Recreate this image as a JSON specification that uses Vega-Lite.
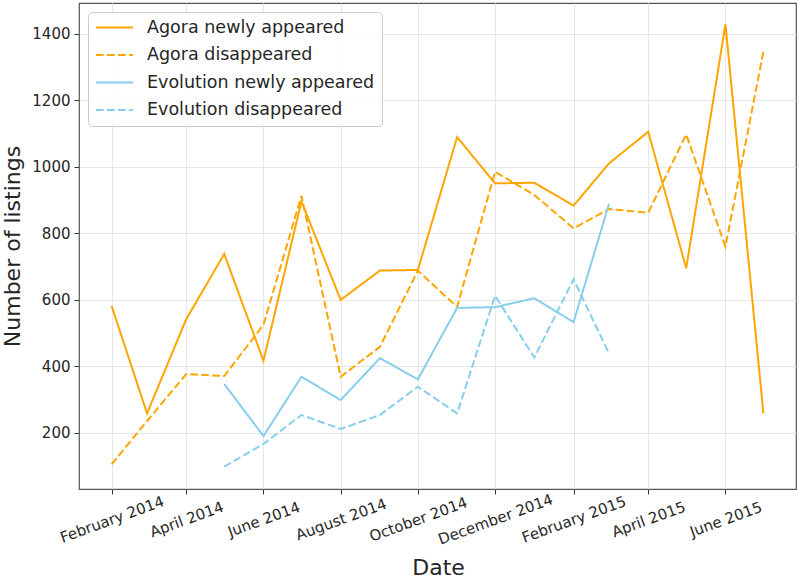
{
  "$schema": "https://vega.github.io/schema/vega-lite/v6.json",
  "width": 717,
  "height": 486,
  "autosize": {"type": "none"},
  "padding": {"left": 79, "top": 3, "right": 4, "bottom": 91},
  "background": "white",
  "config": {
    "font": "DejaVu Sans",
    "view": {"stroke": "#555555", "strokeWidth": 1.2},
    "axis": {
      "labelFont": "DejaVu Sans",
      "titleFont": "DejaVu Sans",
      "labelColor": "#262626",
      "titleColor": "#262626",
      "titleFontWeight": "normal",
      "domain": false,
      "tickColor": "#333333",
      "tickSize": 5,
      "tickWidth": 1,
      "gridColor": "#e6e6e6",
      "gridWidth": 1
    }
  },
  "data": {
    "values": [
      {"date": "2014-02-01T00:00:00", "series": "Agora newly appeared", "value": 582},
      {"date": "2014-03-01T00:00:00", "series": "Agora newly appeared", "value": 259},
      {"date": "2014-04-01T00:00:00", "series": "Agora newly appeared", "value": 542},
      {"date": "2014-05-01T00:00:00", "series": "Agora newly appeared", "value": 738},
      {"date": "2014-06-01T00:00:00", "series": "Agora newly appeared", "value": 417},
      {"date": "2014-07-01T00:00:00", "series": "Agora newly appeared", "value": 896},
      {"date": "2014-08-01T00:00:00", "series": "Agora newly appeared", "value": 600},
      {"date": "2014-09-01T00:00:00", "series": "Agora newly appeared", "value": 688},
      {"date": "2014-10-01T00:00:00", "series": "Agora newly appeared", "value": 690},
      {"date": "2014-11-01T00:00:00", "series": "Agora newly appeared", "value": 1089},
      {"date": "2014-12-01T00:00:00", "series": "Agora newly appeared", "value": 950},
      {"date": "2015-01-01T00:00:00", "series": "Agora newly appeared", "value": 952},
      {"date": "2015-02-01T00:00:00", "series": "Agora newly appeared", "value": 883},
      {"date": "2015-03-01T00:00:00", "series": "Agora newly appeared", "value": 1010},
      {"date": "2015-04-01T00:00:00", "series": "Agora newly appeared", "value": 1105},
      {"date": "2015-05-01T00:00:00", "series": "Agora newly appeared", "value": 695},
      {"date": "2015-06-01T00:00:00", "series": "Agora newly appeared", "value": 1428},
      {"date": "2015-07-01T00:00:00", "series": "Agora newly appeared", "value": 259},
      {"date": "2014-02-01T00:00:00", "series": "Agora disappeared", "value": 106},
      {"date": "2014-03-01T00:00:00", "series": "Agora disappeared", "value": 236},
      {"date": "2014-04-01T00:00:00", "series": "Agora disappeared", "value": 377},
      {"date": "2014-05-01T00:00:00", "series": "Agora disappeared", "value": 371},
      {"date": "2014-06-01T00:00:00", "series": "Agora disappeared", "value": 525},
      {"date": "2014-07-01T00:00:00", "series": "Agora disappeared", "value": 913},
      {"date": "2014-08-01T00:00:00", "series": "Agora disappeared", "value": 369},
      {"date": "2014-09-01T00:00:00", "series": "Agora disappeared", "value": 459},
      {"date": "2014-10-01T00:00:00", "series": "Agora disappeared", "value": 688},
      {"date": "2014-11-01T00:00:00", "series": "Agora disappeared", "value": 579},
      {"date": "2014-12-01T00:00:00", "series": "Agora disappeared", "value": 985},
      {"date": "2015-01-01T00:00:00", "series": "Agora disappeared", "value": 915},
      {"date": "2015-02-01T00:00:00", "series": "Agora disappeared", "value": 815},
      {"date": "2015-03-01T00:00:00", "series": "Agora disappeared", "value": 873},
      {"date": "2015-04-01T00:00:00", "series": "Agora disappeared", "value": 862},
      {"date": "2015-05-01T00:00:00", "series": "Agora disappeared", "value": 1097},
      {"date": "2015-06-01T00:00:00", "series": "Agora disappeared", "value": 760},
      {"date": "2015-07-01T00:00:00", "series": "Agora disappeared", "value": 1346},
      {"date": "2014-05-01T00:00:00", "series": "Evolution newly appeared", "value": 347},
      {"date": "2014-06-01T00:00:00", "series": "Evolution newly appeared", "value": 191},
      {"date": "2014-07-01T00:00:00", "series": "Evolution newly appeared", "value": 369},
      {"date": "2014-08-01T00:00:00", "series": "Evolution newly appeared", "value": 299},
      {"date": "2014-09-01T00:00:00", "series": "Evolution newly appeared", "value": 425},
      {"date": "2014-10-01T00:00:00", "series": "Evolution newly appeared", "value": 361},
      {"date": "2014-11-01T00:00:00", "series": "Evolution newly appeared", "value": 576},
      {"date": "2014-12-01T00:00:00", "series": "Evolution newly appeared", "value": 578},
      {"date": "2015-01-01T00:00:00", "series": "Evolution newly appeared", "value": 605},
      {"date": "2015-02-01T00:00:00", "series": "Evolution newly appeared", "value": 533},
      {"date": "2015-03-01T00:00:00", "series": "Evolution newly appeared", "value": 888},
      {"date": "2014-05-01T00:00:00", "series": "Evolution disappeared", "value": 99},
      {"date": "2014-06-01T00:00:00", "series": "Evolution disappeared", "value": 167},
      {"date": "2014-07-01T00:00:00", "series": "Evolution disappeared", "value": 254},
      {"date": "2014-08-01T00:00:00", "series": "Evolution disappeared", "value": 212},
      {"date": "2014-09-01T00:00:00", "series": "Evolution disappeared", "value": 254},
      {"date": "2014-10-01T00:00:00", "series": "Evolution disappeared", "value": 339},
      {"date": "2014-11-01T00:00:00", "series": "Evolution disappeared", "value": 259},
      {"date": "2014-12-01T00:00:00", "series": "Evolution disappeared", "value": 612},
      {"date": "2015-01-01T00:00:00", "series": "Evolution disappeared", "value": 427},
      {"date": "2015-02-01T00:00:00", "series": "Evolution disappeared", "value": 662},
      {"date": "2015-03-01T00:00:00", "series": "Evolution disappeared", "value": 439}
    ]
  },
  "mark": {"type": "line", "strokeWidth": 2, "clip": true},
  "encoding": {
    "x": {
      "field": "date",
      "type": "temporal",
      "title": "Date",
      "scale": {
        "domain": [
          {"year": 2014, "month": 1, "date": 6, "hours": 6},
          {"year": 2015, "month": 7, "date": 26, "hours": 18}
        ]
      },
      "axis": {
        "values": [
          {"year": 2014, "month": 2, "date": 1},
          {"year": 2014, "month": 4, "date": 1},
          {"year": 2014, "month": 6, "date": 1},
          {"year": 2014, "month": 8, "date": 1},
          {"year": 2014, "month": 10, "date": 1},
          {"year": 2014, "month": 12, "date": 1},
          {"year": 2015, "month": 2, "date": 1},
          {"year": 2015, "month": 4, "date": 1},
          {"year": 2015, "month": 6, "date": 1}
        ],
        "format": "%B %Y",
        "labelAngle": -20,
        "labelAlign": "center",
        "labelBaseline": "middle",
        "labelPadding": 25,
        "labelFontSize": 15,
        "labelOverlap": false,
        "labelBound": false,
        "labelFlush": false,
        "labelLimit": 0,
        "titleFontSize": 22,
        "titleX": 359,
        "titleY": 85,
        "titleAlign": "center",
        "titleBaseline": "alphabetic"
      }
    },
    "y": {
      "field": "value",
      "type": "quantitative",
      "title": "Number of listings",
      "scale": {"domain": [31.7, 1492], "nice": false, "zero": false},
      "axis": {
        "values": [200, 400, 600, 800, 1000, 1200, 1400],
        "format": "d",
        "labelFontSize": 15,
        "labelPadding": 4,
        "titleFontSize": 22,
        "titleX": -67,
        "titleY": 243,
        "titleAngle": -90,
        "titleAlign": "center",
        "titleBaseline": "middle"
      }
    },
    "color": {
      "field": "series",
      "type": "nominal",
      "title": null,
      "scale": {
        "domain": ["Agora newly appeared", "Agora disappeared", "Evolution newly appeared", "Evolution disappeared"],
        "range": ["#FFA500", "#FFA500", "#87CEEB", "#87CEEB"]
      },
      "legend": {
        "orient": "top-left",
        "offset": 9,
        "padding": 7,
        "symbolType": "stroke",
        "symbolSize": 1369,
        "symbolStrokeWidth": 2,
        "labelFontSize": 17.5,
        "labelFont": "DejaVu Sans",
        "labelColor": "#262626",
        "labelOffset": 13,
        "labelLimit": 0,
        "clipHeight": 17,
        "rowPadding": 9.5,
        "fillColor": "rgba(255,255,255,0.85)",
        "strokeColor": "#cccccc",
        "cornerRadius": 4
      }
    },
    "strokeDash": {
      "field": "series",
      "type": "nominal",
      "title": null,
      "scale": {
        "domain": ["Agora newly appeared", "Agora disappeared", "Evolution newly appeared", "Evolution disappeared"],
        "range": [[1, 0], [7.7, 3.3], [1, 0], [7.7, 3.3]]
      }
    }
  }
}
